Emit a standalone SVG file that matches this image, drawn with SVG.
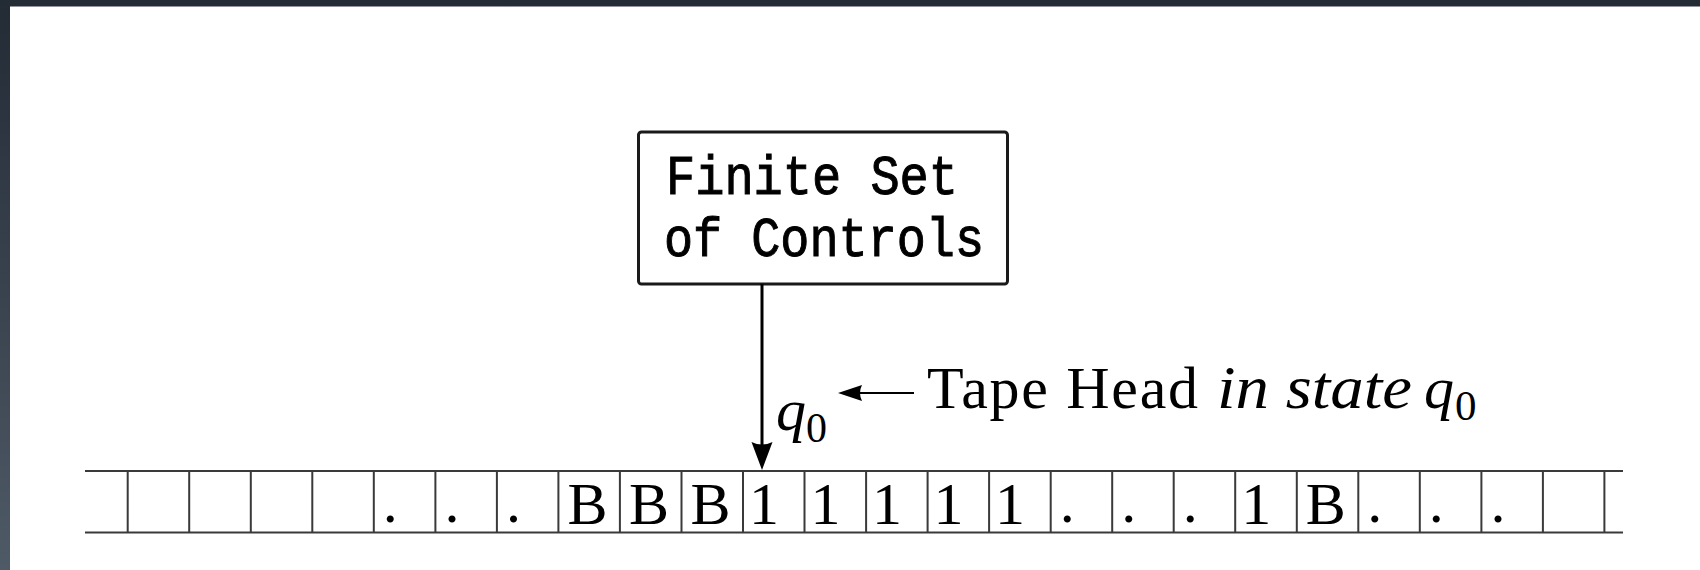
<svg xmlns="http://www.w3.org/2000/svg" width="1700" height="570" viewBox="0 0 1700 570">
<defs>
<linearGradient id="bg" x1="0" y1="0" x2="0" y2="1">
<stop offset="0" stop-color="#232b35"/>
<stop offset="1" stop-color="#4e5a66"/>
</linearGradient>
<style>
.tape{stroke:#3a3a3a;stroke-width:2;fill:none}
.serif{font-family:"Liberation Serif","Times New Roman",serif;fill:#000}
.cell{font-family:"Liberation Serif","Times New Roman",serif;font-size:60px;fill:#000}
.mono{font-family:"Liberation Mono","Courier New",monospace;font-size:55px;fill:#000;stroke:#000;stroke-width:1}
.it{font-style:italic}
</style>
</defs>
<rect x="0" y="0" width="1700" height="570" fill="url(#bg)"/>
<rect x="10" y="6.5" width="1690" height="563.5" fill="#ffffff"/>

<g id="control">
<rect x="638.5" y="132" width="369" height="152" rx="3" fill="#fff" stroke="#1a1a1a" stroke-width="3"/>
<text class="mono" x="666" y="194" textLength="292" lengthAdjust="spacingAndGlyphs">Finite Set</text>
<text class="mono" x="664" y="256" textLength="320" lengthAdjust="spacingAndGlyphs">of Controls</text>
</g>

<g id="connectors">
<line x1="762" y1="284" x2="762" y2="448" stroke="#000" stroke-width="3"/>
<path d="M751.5,442 Q762,447 772.5,442 L762,470 Z" fill="#000"/>
<line x1="856" y1="393" x2="914" y2="393" stroke="#000" stroke-width="2.2"/>
<path d="M838,393 L862,385 Q858,393 862,401 Z" fill="#000"/>
</g>

<g id="head-label">
<text class="serif it" x="776" y="430" font-size="60">q</text>
<text class="serif" x="806" y="442" font-size="42">0</text>
<text class="serif" x="927" y="408" font-size="60" textLength="271" lengthAdjust="spacing">Tape Head</text>
<text class="serif it" x="1217" y="408" font-size="62" textLength="195" lengthAdjust="spacingAndGlyphs">in state</text>
<text class="serif it" x="1424" y="408" font-size="60">q</text>
<text class="serif" x="1455" y="420" font-size="43">0</text>
</g>

<g id="tape">
<line class="tape" x1="85" y1="471" x2="1623" y2="471"/>
<line class="tape" x1="85" y1="532.5" x2="1623" y2="532.5"/>
<path class="tape" d="M127.7,471V532.5M189.2,471V532.5M250.8,471V532.5M312.3,471V532.5M373.8,471V532.5M435.4,471V532.5M496.9,471V532.5M558.4,471V532.5M619.9,471V532.5M681.5,471V532.5M743,471V532.5M804.5,471V532.5M866.1,471V532.5M927.6,471V532.5M989.1,471V532.5M1050.7,471V532.5M1112.2,471V532.5M1173.7,471V532.5M1235.2,471V532.5M1296.8,471V532.5M1358.3,471V532.5M1419.8,471V532.5M1481.4,471V532.5M1542.9,471V532.5M1604.4,471V532.5"/>
<text class="cell" x="382.8" y="522">.</text>
<text class="cell" x="444.4" y="522">.</text>
<text class="cell" x="505.9" y="522">.</text>
<text class="cell" x="567.4" y="523.5">B</text>
<text class="cell" x="628.9" y="523.5">B</text>
<text class="cell" x="690.5" y="523.5">B</text>
<text class="cell" x="749" y="523.5">1</text>
<text class="cell" x="810.5" y="523.5">1</text>
<text class="cell" x="872.1" y="523.5">1</text>
<text class="cell" x="933.6" y="523.5">1</text>
<text class="cell" x="995.1" y="523.5">1</text>
<text class="cell" x="1059.7" y="522">.</text>
<text class="cell" x="1121.2" y="522">.</text>
<text class="cell" x="1182.7" y="522">.</text>
<text class="cell" x="1241.2" y="523.5">1</text>
<text class="cell" x="1305.8" y="523.5">B</text>
<text class="cell" x="1367.3" y="522">.</text>
<text class="cell" x="1428.8" y="522">.</text>
<text class="cell" x="1490.4" y="522">.</text>
</g>
</svg>
